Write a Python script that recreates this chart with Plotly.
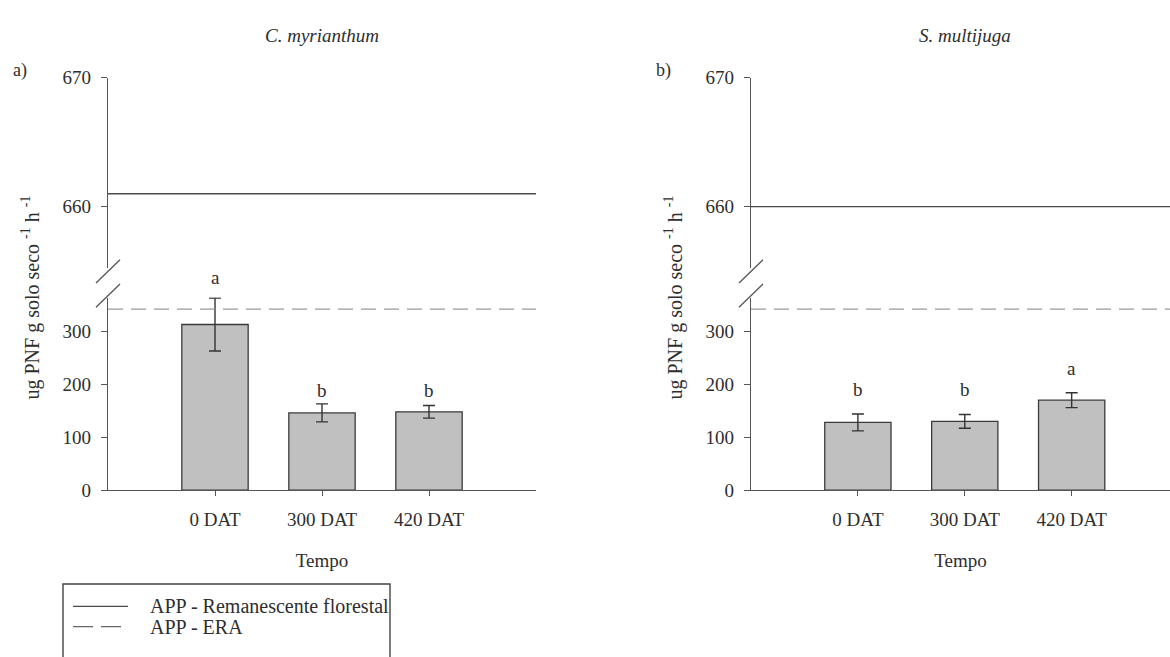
import plotly.graph_objects as go

# ---------------- data ----------------
categories = ["0 DAT", "300 DAT", "420 DAT"]

cm_values = [313, 146, 148]          # C. myrianthum
cm_errors = [50, 17, 12]
cm_letters = ["a", "b", "b"]
cm_letter_y = [400, 188, 188]

sm_values = [128, 130, 170]          # S. multijuga
sm_errors = [16, 13, 14]
sm_letters = ["b", "b", "a"]
sm_letter_y = [188, 188, 229]

ref_forest = [661, 660]              # APP - Remanescente florestal (left, right)
ref_era = [342, 342]                 # APP - ERA (left, right)

panel_titles = ["C. myrianthum", "S. multijuga"]
panel_tags = ["a)", "b)"]
y_top_ticks = [660, 670]
y_bottom_ticks = [0, 100, 200, 300]
legend_names = ["APP - Remanescente florestal", "APP - ERA"]
x_title = "Tempo"
y_title = "ug PNF g solo seco <sup>-1</sup> h <sup>-1</sup>"

# ---------------- layout geometry ----------------
W, H = 1170, 657
FONT = "Liberation Serif"
FS = 19
TXT = "#2e2e2e"
AX = "#555555"
FOREST_LINE = dict(color="#4a4a4a", width=1.3)
ERA_LINE = dict(color="#9a9a9a", width=1.4, dash="15px,8px")

x_pos = list(range(len(categories)))
x_dom = [[108 / W, 536 / W], [751 / W, 1.0]]
x_rng = [[-1, 3], [-1, 2.92]]
top_dom = [1 - 267 / H, 1 - 70 / H]
bot_dom = [1 - 496 / H, 1 - 297 / H]
top_rng = [655.2, 670]
bot_rng = [0, 364]
px_per_unit = (bot_dom[1] - bot_dom[0]) * H / (bot_rng[1] - bot_rng[0])

top_axes = [("x", "y"), ("x3", "y3")]
bot_axes = [("x2", "y2"), ("x4", "y4")]

fig = go.Figure()

panels = [
    (cm_values, cm_errors, cm_letters, cm_letter_y),
    (sm_values, sm_errors, sm_letters, sm_letter_y),
]

for p, (vals, errs, lets, lety) in enumerate(panels):
    xt, yt = top_axes[p]
    xb, yb = bot_axes[p]
    fig.add_trace(go.Bar(
        x=x_pos, y=vals, xaxis=xb, yaxis=yb, width=0.62,
        marker=dict(color="#c0c0c0", line=dict(color="#3a3a3a", width=1.3)),
        error_y=dict(type="data", array=errs, visible=True, color="#333333",
                     thickness=1.4, width=6),
        showlegend=False, hoverinfo="skip"))
    fig.add_trace(go.Scatter(
        x=x_rng[p], y=[ref_forest[p]] * 2, xaxis=xt, yaxis=yt, mode="lines",
        line=FOREST_LINE, name=legend_names[0], showlegend=False, hoverinfo="skip"))
    fig.add_trace(go.Scatter(
        x=x_rng[p], y=[ref_era[p]] * 2, xaxis=xb, yaxis=yb, mode="lines",
        line=ERA_LINE, name=legend_names[1], showlegend=False, hoverinfo="skip"))
    # significance letters
    for xp, v, e, l, ly in zip(x_pos, vals, errs, lets, lety):
        fig.add_annotation(x=xp, y=v + e, xref=xb, yref=yb, text=l, showarrow=False,
                           yanchor="middle", yshift=(ly - v - e) * px_per_unit,
                           font=dict(family=FONT, size=FS, color=TXT))
    # panel title centred on the nominal plot
    fig.add_annotation(x=1, y=1 - 26 / H, xref=xb, yref="paper", yanchor="middle",
                       text=f"<i>{panel_titles[p]}</i>", showarrow=False,
                       font=dict(family=FONT, size=FS, color=TXT))

common_y = dict(showgrid=False, zeroline=False, showline=True, linecolor=AX,
                linewidth=1.3, ticks="outside", ticklen=6, tickcolor=AX,
                tickwidth=1.3, ticklabelstandoff=6,
                tickfont=dict(family=FONT, size=FS, color=TXT))

layout = dict(width=W, height=H, margin=dict(l=0, r=0, t=0, b=0),
              paper_bgcolor="white", plot_bgcolor="white", showlegend=False)

for p in range(2):
    xt, yt = top_axes[p]
    xb, yb = bot_axes[p]
    kx = lambda a: "xaxis" + a[1:]
    ky = lambda a: "yaxis" + a[1:]
    layout[kx(xt)] = dict(domain=x_dom[p], range=x_rng[p], visible=False, anchor=yt)
    layout[ky(yt)] = dict(domain=top_dom, range=top_rng, anchor=xt,
                          tickvals=y_top_ticks, **common_y)
    layout[kx(xb)] = dict(domain=x_dom[p], range=x_rng[p], anchor=yb,
                          tickvals=x_pos, ticktext=categories,
                          showgrid=False, zeroline=False, showline=True,
                          linecolor=AX, linewidth=1.3, ticks="outside",
                          ticklen=5, tickcolor=AX, tickwidth=1.3,
                          ticklabelstandoff=7,
                          tickfont=dict(family=FONT, size=FS, color=TXT),
                          title=dict(text=x_title, standoff=24,
                                     font=dict(family=FONT, size=FS, color=TXT)))
    layout[ky(yb)] = dict(domain=bot_dom, range=bot_rng, anchor=xb,
                          tickvals=y_bottom_ticks, **common_y)

fig.update_layout(**layout)

# axis-break slashes, y-axis titles and panel tags
for p in range(2):
    ax_x = x_dom[p][0]
    dx = 12 / W
    for cy in (top_dom[0] - 3 / H, bot_dom[1] + 2 / H):
        fig.add_shape(type="line", xref="paper", yref="paper",
                      x0=ax_x - dx, y0=cy - 12 / H, x1=ax_x + dx, y1=cy + 12 / H,
                      line=dict(color=AX, width=1.3))
    fig.add_annotation(x=(ax_x * W - 77) / W, y=1 - 297 / H, xref="paper", yref="paper",
                       xanchor="center", yanchor="middle",
                       text=y_title, textangle=-90, showarrow=False,
                       font=dict(family=FONT, size=FS + 1, color=TXT))
    fig.add_annotation(x=(ax_x * W - 88) / W, y=1 - 63 / H, xref="paper", yref="paper",
                       xanchor="center", yanchor="middle",
                       text=panel_tags[p], showarrow=False,
                       font=dict(family=FONT, size=FS - 1, color=TXT))

# legend box (drawn in page pixels, bottom edge runs off the page as in the original)
LX0, LY0, LX1 = 63, 593, 390
fig.add_shape(type="rect", xref="paper", yref="paper",
              x0=LX0 / W, x1=LX1 / W, y0=-0.1, y1=1 - LY0 / H,
              line=dict(color="#444444", width=1.4), fillcolor="white")
for i, (name, style) in enumerate(zip(legend_names, [FOREST_LINE, ERA_LINE])):
    ry = 616 + 21 * i
    st = dict(style)
    if "dash" in st:
        st["dash"] = "20px,8px"
        st["color"] = "#666666"
    fig.add_shape(type="line", xref="paper", yref="paper",
                  x0=73 / W, x1=128 / W, y0=1 - ry / H, y1=1 - ry / H, line=st)
    fig.add_annotation(x=148 / W, y=1 - ry / H, xref="paper", yref="paper",
                       xanchor="left", yanchor="middle", text=name, showarrow=False,
                       font=dict(family=FONT, size=FS + 1, color=TXT))

fig.write_html("out.html")
